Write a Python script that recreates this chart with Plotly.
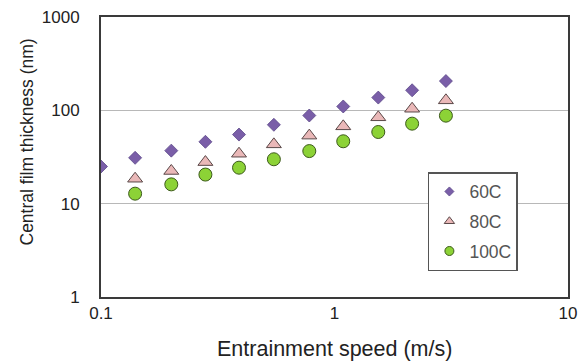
import plotly.graph_objects as go

speed = [0.1, 0.14, 0.2, 0.28, 0.39, 0.55, 0.78, 1.09, 1.54, 2.15, 3.0]
t60 = [25, 31, 37, 46, 55, 70, 88, 110, 137, 164, 206]
speed_hot = [0.14, 0.2, 0.28, 0.39, 0.55, 0.78, 1.09, 1.54, 2.15, 3.0]
t80 = [18.5, 22.4, 27.9, 34.3, 43.2, 53.6, 67.4, 84.2, 104, 128]
t100 = [12.8, 16.1, 20.5, 24.3, 29.9, 36.6, 46.6, 58.6, 72, 87.7]
names = ["60C", "80C", "100C"]

font = "Liberation Sans, Arial, sans-serif"

styles = [
    dict(symbol="diamond", color="#7a5ea8", line=dict(color="#5a4888", width=0.8)),
    dict(symbol="triangle-up", color="#eab8b8", line=dict(color="#5a4848", width=1)),
    dict(symbol="circle", color="#8cd236", line=dict(color="#3d5a1c", width=1)),
]
plot_sizes = [10, 13, 13]
legend_sizes = [7, 9, 9]
xs = [speed, speed_hot, speed_hot]
ys = [t60, t80, t100]

fig = go.Figure()
for i in range(3):
    fig.add_trace(go.Scatter(x=xs[i], y=ys[i], mode="markers", name=names[i], showlegend=False,
                             marker=dict(size=plot_sizes[i], **styles[i])))
for i in range(3):
    fig.add_trace(go.Scatter(x=[None], y=[None], mode="markers", name=names[i], legendgroup=names[i],
                             marker=dict(size=legend_sizes[i], **styles[i])))

fig.update_layout(
    width=578, height=363,
    margin=dict(l=101, r=10, t=17, b=66),
    paper_bgcolor="white", plot_bgcolor="white",
    font=dict(family=font, size=17, color="#222222"),
    showlegend=True,
    legend=dict(x=0.700, y=0.446, xanchor="left", yanchor="top",
                bgcolor="white", bordercolor="#555555", borderwidth=1.5,
                font=dict(size=17.5, color="#555555"), tracegroupgap=4,
                itemwidth=30),
    annotations=[
        dict(text="Entrainment speed (m/s)", xref="paper", yref="paper", x=0.5, y=-0.184,
             xanchor="center", yanchor="middle", showarrow=False, font=dict(size=21.5, color="#222222")),
        dict(text="Central film thickness (nm)", xref="paper", yref="paper", x=-0.1595, y=0.5536,
             xanchor="center", yanchor="middle", textangle=-90, showarrow=False,
             font=dict(size=17.5, color="#222222")),
    ],
)
fig.update_xaxes(type="log", range=[-1, 1], tickvals=[0.1, 1, 10], ticktext=["0.1", "1", "10"],
                 showgrid=False, showline=True, linecolor="#3a3a3a", linewidth=2, mirror=True,
                 ticks="", zeroline=False, automargin=False, ticklabelstandoff=0)
fig.update_yaxes(type="log", range=[0, 3], tickvals=[1, 10, 100, 1000], ticktext=["1", "10", "100", "1000"],
                 showgrid=True, gridcolor="#b8b8b8", gridwidth=1,
                 showline=True, linecolor="#3a3a3a", linewidth=2, mirror=True,
                 ticks="", zeroline=False, automargin=False, ticklabelstandoff=16)

fig.write_html("out.html", config={"displayModeBar": False},
               post_script="document.body.style.margin='0';")
